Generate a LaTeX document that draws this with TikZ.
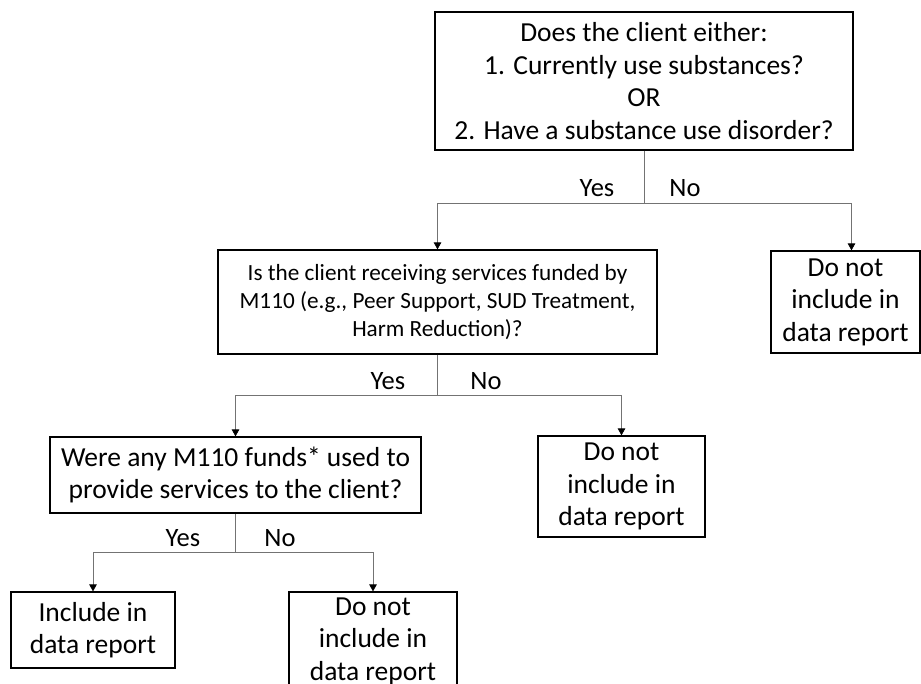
\documentclass[tikz,border=0pt]{standalone}
\usepackage{fontspec}
\setmainfont{Carlito}
\usetikzlibrary{arrows.meta,positioning}
\tikzset{
	box/.style={draw,line width=1.2pt,align=center,inner sep=0pt,
		font=\fontsize{27.5}{32.5}\selectfont},
	box small/.style={box,font=\fontsize{23.2}{28}\selectfont},
	lab/.style={inner sep=0pt,anchor=base,font=\fontsize{26.5}{30}\selectfont},
	conn/.style={draw=black!55,line width=0.8pt,
		-{Triangle[length=7pt,width=7.5pt,color=black]}}
}

\begin{document}
\begin{tikzpicture}[x=1pt,y=-1pt]
	\useasboundingbox (0,0) rectangle (921,684);
	% questions
	\node[box,minimum width=418,minimum height=138] (use) at (644,81)
		{Does the client either:\\1. Currently use substances?\\OR\\2. Have a substance use disorder?};
	\node[box small,minimum width=439,minimum height=104] (serv) at (437.5,302)
		{Is the client receiving services funded by\\M110 (e.g., Peer Support, SUD Treatment,\\Harm Reduction)?};
	\node[box,minimum width=371,minimum height=76] (fund) at (235.5,475)
		{Were any M110 funds* used to\\provide services to the client?};
	% outcomes
	\node[box,minimum width=149,minimum height=102] (excl1) at (845.5,302)
		{Do not\\include in\\data report};
	\node[box,minimum width=167,minimum height=101] (excl2) at (621.5,486.5)
		{Do not\\include in\\data report};
	\node[box,minimum width=164,minimum height=76] (incl) at (93,630)
		{Include in\\data report};
	\node[box,minimum width=168,minimum height=98] (excl3) at (373,641)
		{Do not\\include in\\data report};
	% branches
	\draw[conn] (use.south) -- ++(0,53) coordinate (j1) -| (serv.north);
	\draw[conn] (j1) -| ([xshift=6pt]excl1.north);
	\draw[conn] (serv.south) -- ++(0,41) coordinate (j2) -| (fund.north);
	\draw[conn] (j2) -| (excl2.north);
	\draw[conn] (fund.south) -- ++(0,39) coordinate (j3) -| (incl.north);
	\draw[conn] (j3) -| (excl3.north);
	% answers
	\node[lab] (yes1) at (597,197) {Yes};
	\node[lab] (no1) at (685,197) {No};
	\node[lab] (yes2) at (388,390) {Yes};
	\node[lab] (no2) at (486,390) {No};
	\node[lab] (yes3) at (183,546) {Yes};
	\node[lab] (no3) at (280,546) {No};
\end{tikzpicture}
\end{document}
